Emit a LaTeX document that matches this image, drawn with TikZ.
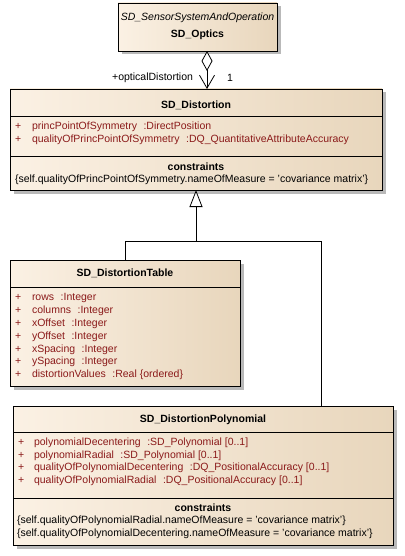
\documentclass[tikz,border=0pt]{standalone}
\usepackage{fontspec}
\setmainfont{Liberation Sans}
\usetikzlibrary{arrows.meta,shadows}
\definecolor{boxL}{HTML}{FBF1E4}
\definecolor{boxR}{HTML}{E8D6BC}
\definecolor{attr}{HTML}{8B1A1A}
\definecolor{shade}{HTML}{A8A8A8}
\newcommand{\dfont}{\fontsize{10.5}{12}\selectfont}
\newcommand{\gap}{\hspace{6.5pt}}
\begin{document}
\begin{tikzpicture}[x=1pt,y=-1pt,
  every node/.style={inner sep=0pt, outer sep=0pt, font=\dfont},
  umlbox/.style={draw=black, line width=0.8pt, left color=boxL, right color=boxR,
    anchor=north west,
    drop shadow={shadow xshift=3.5pt, shadow yshift=-3.5pt, fill=shade, opacity=0.8}},
  sep/.style={line width=0.8pt},
  title/.style={font=\dfont\bfseries},
  txt/.style={anchor=west, text height=7.5pt, text depth=2pt},
  attrib/.style={txt, text=attr},
  link/.style={line width=0.8pt}]
\useasboundingbox (0,0) rectangle (404,556);

% SD_Optics
\node[umlbox, minimum width=159pt, minimum height=48pt] (optics) at (118,3) {};
\node[font=\dfont\itshape] at (197.5,18) {SD\_SensorSystemAndOperation};
\node[title] at (197.5,35) {SD\_Optics};

% SD_Distortion
\node[umlbox, minimum width=372pt, minimum height=101pt] (dist) at (10,89) {};
\draw[sep] (dist.west |- 0,116) -- (dist.east |- 0,116);
\draw[sep] (dist.west |- 0,156) -- (dist.east |- 0,156);
\node[title] at (196,105) {SD\_Distortion};
\node[attrib] at (15,127) {+};
\node[attrib] at (32,127) {princPointOfSymmetry\gap:DirectPosition};
\node[attrib] at (15,140) {+};
\node[attrib] at (32,140) {qualityOfPrincPointOfSymmetry\gap:DQ\_QuantitativeAttributeAccuracy};
\node[title] at (196,167) {constraints};
\node[txt] at (15,180) {\{self.qualityOfPrincPointOfSymmetry.nameOfMeasure = 'covariance matrix'\}};

% SD_DistortionTable
\node[umlbox, minimum width=230pt, minimum height=126pt] (table) at (10,260) {};
\draw[sep] (table.west |- 0,287) -- (table.east |- 0,287);
\node[title] at (125,273) {SD\_DistortionTable};
\foreach \y/\t in {298/rows\gap:Integer, 311/columns\gap:Integer, 324/xOffset\gap:Integer,
  337/yOffset\gap:Integer, 350/xSpacing\gap:Integer, 362/ySpacing\gap:Integer,
  375/distortionValues\gap:Real \{ordered\}} {
  \node[attrib] at (15,\y) {+};
  \node[attrib] at (32,\y) {\t};
}

% SD_DistortionPolynomial
\node[umlbox, minimum width=380pt, minimum height=139pt] (poly) at (13,406) {};
\draw[sep] (poly.west |- 0,432) -- (poly.east |- 0,432);
\draw[sep] (poly.west |- 0,498) -- (poly.east |- 0,498);
\node[title] at (203,420) {SD\_DistortionPolynomial};
\foreach \y/\t in {443/polynomialDecentering\gap:SD\_Polynomial [0..1],
  456/polynomialRadial\gap:SD\_Polynomial [0..1],
  468/qualityOfPolynomialDecentering\gap:DQ\_PositionalAccuracy [0..1],
  481/qualityOfPolynomialRadial\gap:DQ\_PositionalAccuracy [0..1]} {
  \node[attrib] at (18,\y) {+};
  \node[attrib] at (34,\y) {\t};
}
\node[title] at (203,508) {constraints};
\node[txt] at (17,521) {\{self.qualityOfPolynomialRadial.nameOfMeasure = 'covariance matrix'\}};
\node[txt] at (17,534) {\{self.qualityOfPolynomialDecentering.nameOfMeasure = 'covariance matrix'\}};

% aggregation SD_Optics -> SD_Distortion
\coordinate (ax) at (207,0);
\draw[link, {Diamond[open, length=20pt, width=11pt, fill=white]}-{Straight Barb[length=13pt, width=15pt]}]
  (optics.south -| ax) -- (dist.north -| ax);
\node[anchor=east] at (193,78) {+opticalDistortion};
\node[anchor=west] at (227,78) {1};

% generalisation
\coordinate (bend) at (196,241);
\coordinate (pj) at (321,241);
\draw[link, -{Triangle[open, length=17pt, width=13pt, fill=white]}] (bend) -- (dist.south);
\draw[link] (table.north) |- (bend);
\draw[link] (poly.north -| pj) -- (pj) -- (bend);
\end{tikzpicture}
\end{document}
